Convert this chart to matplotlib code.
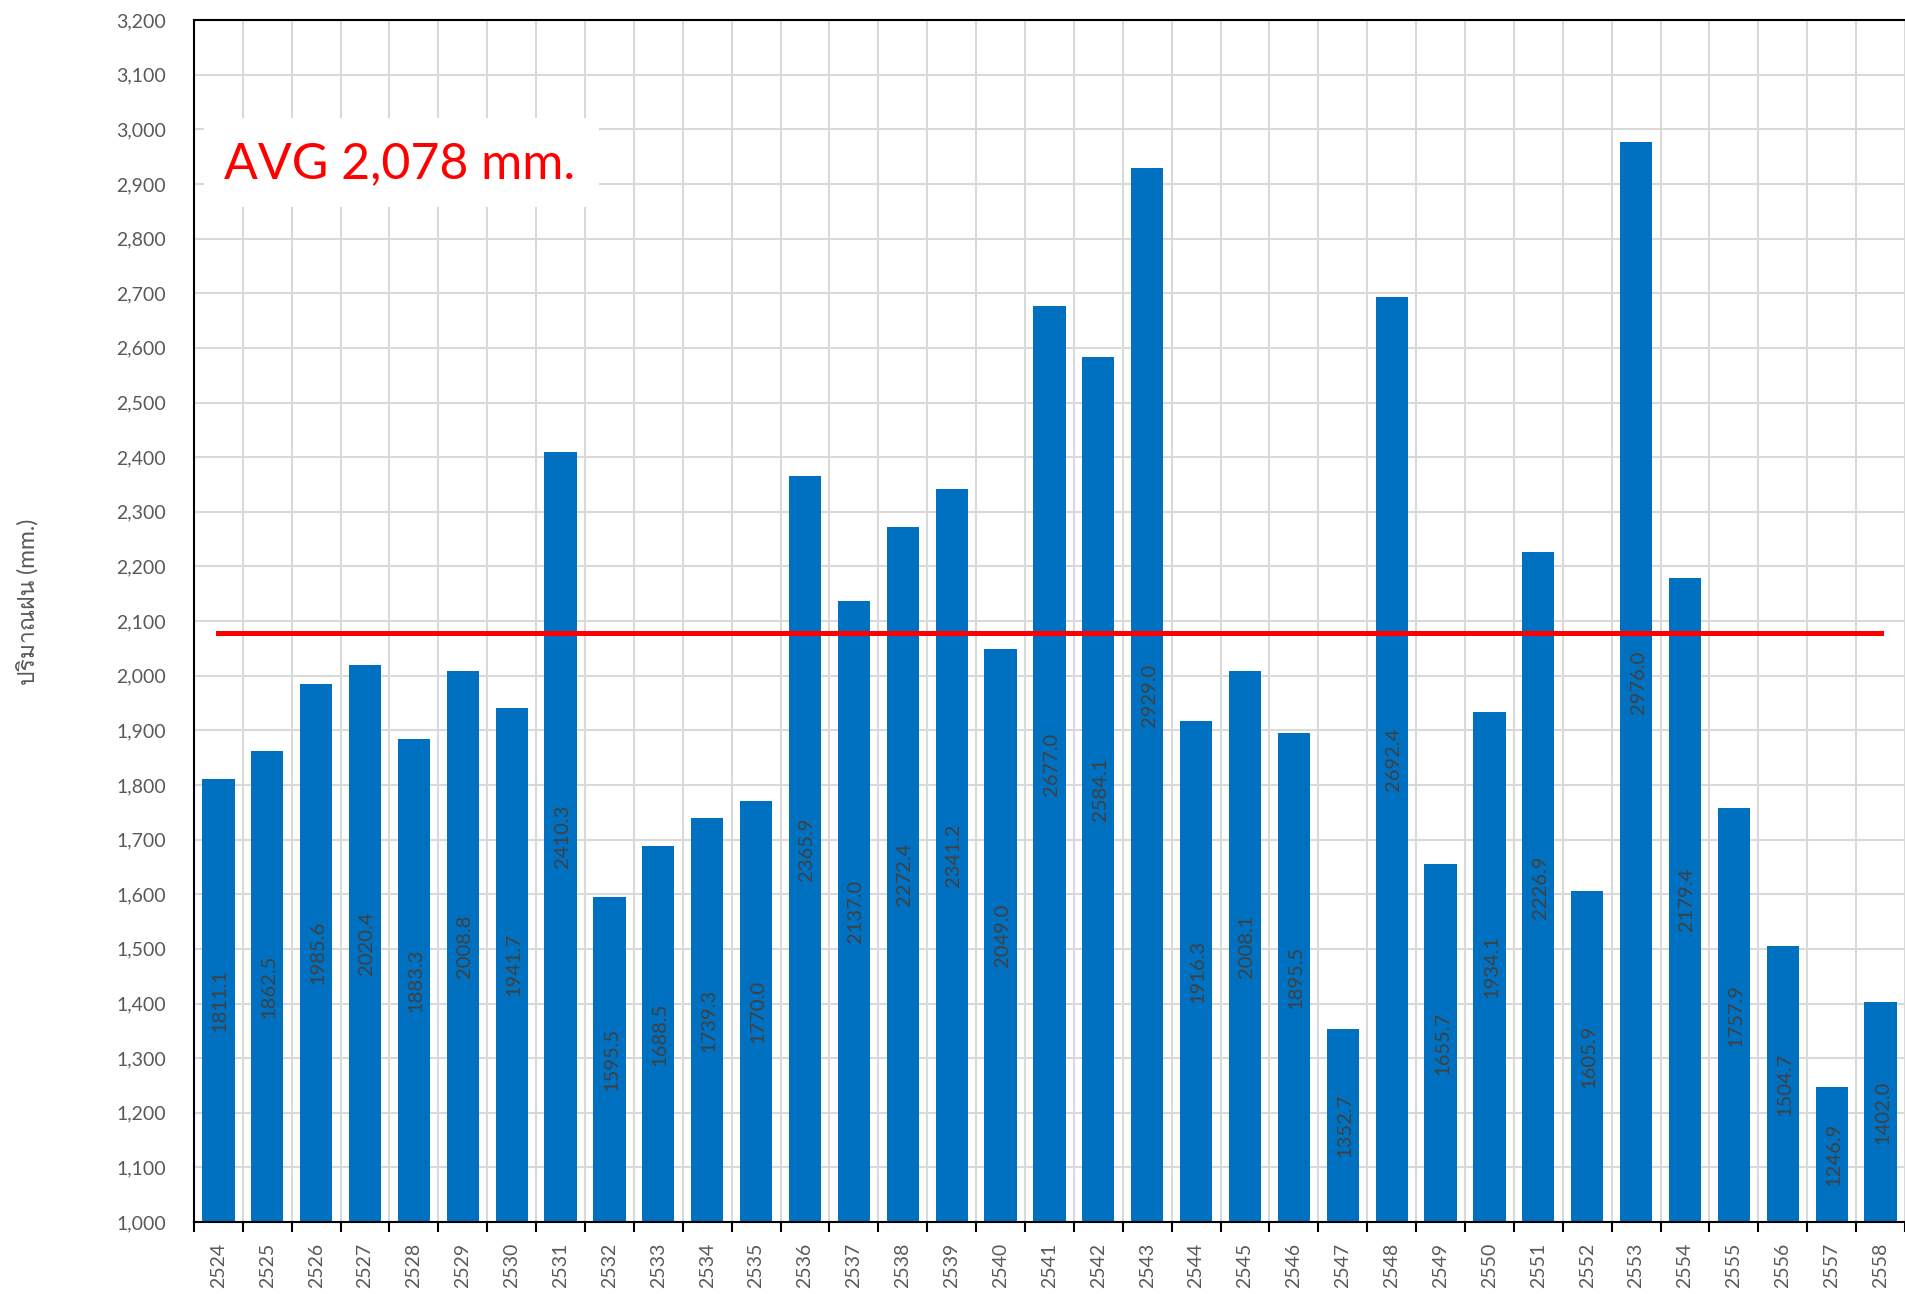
import matplotlib
matplotlib.use("Agg")
import matplotlib.pyplot as plt
from matplotlib import font_manager
from matplotlib.ft2font import FT2Font
from matplotlib.ticker import FixedLocator, FuncFormatter
import matplotlib.patches as mpatches
import numpy as np

# ─── Data ────────────────────────────────────────────────────────────────────

years = [str(y) for y in range(2524, 2559)]
rain = [
    1811.1, 1862.5, 1985.6, 2020.4, 1883.3, 2008.8, 1941.7, 2410.3, 1595.5,
    1688.5, 1739.3, 1770.0, 2365.9, 2137.0, 2272.4, 2341.2, 2049.0, 2677.0,
    2584.1, 2929.0, 1916.3, 2008.1, 1895.5, 1352.7, 2692.4, 1655.7, 1934.1,
    2226.9, 1605.9, 2976.0, 2179.4, 1757.9, 1504.7, 1246.9, 1402.0,
]
avg_value = 2078
avg_label = "AVG 2,078 mm."
y_label = "ปริมาณฝน (mm.)"

# ─── Fonts ───────────────────────────────────────────────────────────────────

def _find_thai_font():
    for f in font_manager.fontManager.ttflist:
        try:
            if 0x0E1B in FT2Font(f.fname).get_charmap():
                return f.name
        except Exception:
            continue
    return None

thai = _find_thai_font()
families = ["Lato"] + ([thai] if thai else []) + ["DejaVu Sans"]
plt.rcParams["font.family"] = families

BAR_COLOR = "#0070C0"
GRID_COLOR = "#D9D9D9"
TICK_COLOR = "#595959"
LABEL_COLOR = "#404040"

# ─── Figure ──────────────────────────────────────────────────────────────────

fig = plt.figure(figsize=(19.05, 12.94), dpi=100)
ax = fig.add_axes([0.1018, 0.0556, 0.8982, 0.9289])

x = np.arange(len(years))
bars = ax.bar(x, rain, width=0.66, color=BAR_COLOR, zorder=2)
ax.plot(x, [avg_value] * len(x), color="#FF0000", linewidth=3.6, zorder=4)

for bar, v in zip(bars, rain):
    ax.text(bar.get_x() + bar.get_width() / 2 + 0.04, (1000 + v) / 2, f"{v:.1f}",
            rotation=90, ha="center", va="center", fontsize=14.5,
            color=LABEL_COLOR, zorder=3)

ax.set_xlim(-0.5, len(years) - 0.5)
ax.set_ylim(1000, 3200)

# y axis
ax.set_yticks(np.arange(1000, 3201, 100))
ax.yaxis.set_major_formatter(FuncFormatter(lambda v, p: f"{int(v):,}"))
ax.tick_params(axis="y", length=0, pad=20, labelsize=14, labelcolor=TICK_COLOR)

# x axis: labels at centres, ticks & grid at boundaries
ax.set_xticks(x)
ax.set_xticklabels(years, rotation=90)
ax.xaxis.set_minor_locator(FixedLocator(np.arange(-0.5, len(years), 1.0)))
ax.tick_params(axis="x", which="major", length=0, pad=15, labelsize=14,
               labelcolor=TICK_COLOR)
ax.tick_params(axis="x", which="minor", length=7.5, width=1.5, color="black",
               direction="out")

ax.grid(axis="y", which="major", color=GRID_COLOR, linewidth=1.5, zorder=0)
ax.grid(axis="x", which="minor", color=GRID_COLOR, linewidth=1.5, zorder=0)
ax.set_axisbelow(True)

for side in ["left", "bottom", "top"]:
    ax.spines[side].set_color("black")
    ax.spines[side].set_linewidth(1.5)
ax.spines["right"].set_visible(False)

fig.text(0.0142, 0.535, y_label, rotation=90, ha="center", va="center",
         fontsize=16.5, color=TICK_COLOR)

# AVG label with white box covering grid
box = mpatches.Rectangle((0.006, 0.8444), 0.2307, 0.0741, transform=ax.transAxes,
                         facecolor="white", edgecolor="none", zorder=5)
ax.add_patch(box)
ax.text(0.1204, 0.880, avg_label, transform=ax.transAxes, ha="center",
        va="center", fontsize=36, color="#FF0000", zorder=6)

fig.savefig("out.png", dpi=100)
